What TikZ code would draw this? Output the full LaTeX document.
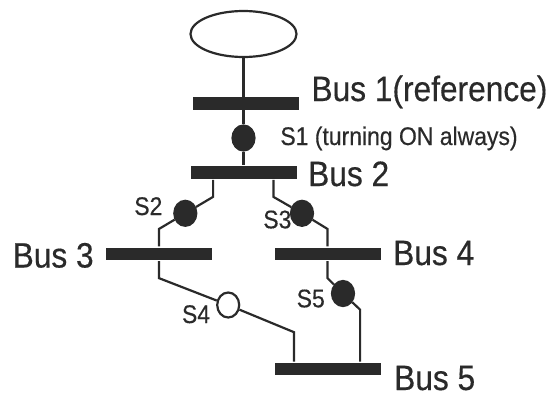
\documentclass[tikz,border=0pt]{standalone}
\usepackage{fontspec}
\setmainfont{Liberation Sans}[FakeStretch=0.9, FakeBold=0.4]
\usetikzlibrary{shapes.geometric}
\definecolor{themeDark}{RGB}{42, 42, 42}
\newcommand{\lBusOne}{Bus 1(reference)}
\newcommand{\lBusTwo}{Bus 2}
\newcommand{\lBusThree}{Bus 3}
\newcommand{\lBusFour}{Bus 4}
\newcommand{\lBusFive}{Bus 5}
\newcommand{\lSwOne}{S1 (turning ON always)}

\begin{document}
\begin{tikzpicture} [
        x=1pt, y=-1pt,
        line width=2.2pt, draw=themeDark,
        gen/.style={draw, ellipse, inner sep=0, minimum width=106pt, minimum height=46pt},
        bus/.style={fill=themeDark, inner sep=0, minimum width=106pt, minimum height=12.5pt},
        sw on/.style={draw, ellipse, fill=themeDark, inner sep=0, minimum width=22pt, minimum height=25pt},
        sw off/.style={sw on, fill=white},
        label bus/.style={anchor=base west, inner sep=0, text=themeDark, font=\fontsize{35.2}{36}\selectfont},
        label sw/.style={anchor=base west, inner sep=0, text=themeDark, font=\fontsize{25.5}{26}\selectfont}
    ]

    \useasboundingbox (0,0) rectangle (557,394);

    \path (243.5,34) node[gen] (gen) {};
    \path (246.3,103.5) node[bus] (bus 1) {};
    \path (bus 1) ++(-2.6,69) node[bus] (bus 2) {};
    \path (159,253.8) node[bus] (bus 3) {};
    \path (bus 3) ++(168.5,0) node[bus] (bus 4) {};
    \path (bus 4) ++(0,115.2) node[bus] (bus 5) {};

    \path (gen) ++(0,104) node[sw on] (sw 1) {};
    \path (bus 2) ++(-58.4,40.8) node[sw on] (sw 2) {};
    \path (bus 2) ++(58.3,40.8) node[sw on] (sw 3) {};
    \path (228.2,305) node[sw off] (sw 4) {};
    \path (bus 4) ++(15.5,39.7) node[sw on] (sw 5) {};

    \path (bus 1.east) ++(10,-2.5) node[label bus] (label 1) {\lBusOne};
    \path (bus 2.east) ++(9.3,13.5) node[label bus] (label 2) {\lBusTwo};
    \path (bus 3.west) ++(-93.3,13.7) node[label bus] (label 3) {\lBusThree};
    \path (bus 4.east) ++(10.5,11.2) node[label bus] (label 4) {\lBusFour};
    \path (bus 5.east) ++(11.5,21) node[label bus] (label 5) {\lBusFive};

    \path (sw 1.east) ++(23.7,7) node[label sw] (label s1) {\lSwOne};
    \path (sw 2.west) ++(-40,1.7) node[label sw] (label s2) {S2};
    \path (sw 3.west) ++(-27.7,15) node[label sw] (label s3) {S3};
    \path (sw 4.west) ++(-35.2,18) node[label sw] (label s4) {S4};
    \path (sw 5.west) ++(-35.3,13.8) node[label sw] (label s5) {S5};

    \path (bus 2.south-|bus 3.east) ++(0,17) coordinate (s2 high);
    \path (bus 3.north) ++(0,-17.5) coordinate (s2 low);
    \path (bus 2.south-|bus 4.west) ++(0,17) coordinate (s3 high);
    \path (bus 4.north) ++(0,-17.5) coordinate (s3 low);
    \path (bus 3.south) ++(0,17) coordinate (s4 high);
    \path (bus 5.north west) ++(20.5,-29.5) coordinate (s4 low);
    \path (bus 4.south) ++(0,17) coordinate (s5 high);
    \path (bus 5.north east) ++(-21.5,-52) coordinate (s5 low);

    \draw (gen.south) -- (sw 1.north);
    \draw (sw 1.south) -- (sw 1.south|-bus 2.north);
    \draw (bus 2.south-|s2 high) -- (s2 high) -- (sw 2) -- (s2 low) -- (bus 3.north);
    \draw (bus 2.south-|s3 high) -- (s3 high) -- (sw 3) -- (s3 low) -- (bus 4.north);
    \draw (bus 3.south) -- (s4 high) -- (sw 4) -- (s4 low) -- (s4 low|-bus 5.north);
    \draw (bus 4.south) -- (s5 high) -- (sw 5) -- (s5 low) -- (s5 low|-bus 5.north);

    \end{tikzpicture}
\end{document}
